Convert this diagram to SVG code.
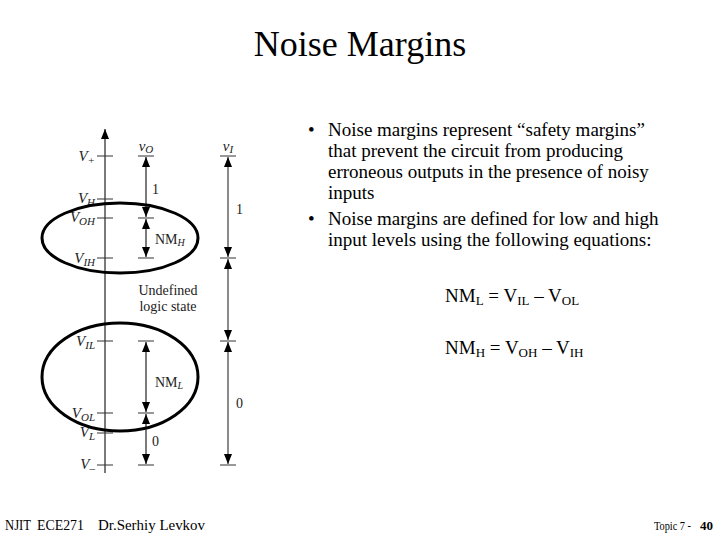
<svg xmlns="http://www.w3.org/2000/svg" width="720" height="540" viewBox="0 0 720 540">
<defs>
<marker id="ah" viewBox="0 0 10 8" refX="10" refY="4" markerWidth="10" markerHeight="8" markerUnits="userSpaceOnUse" orient="auto-start-reverse">
<path d="M0,0 L10,4 L0,8 Z" fill="#000"/>
</marker>
</defs>
<style>
.t{font-family:"Liberation Serif","Times New Roman",serif;fill:#000}
.lab{font-family:"Liberation Serif","Times New Roman",serif;font-style:italic;font-size:15px;fill:#222}
.sm{font-family:"Liberation Serif","Times New Roman",serif;font-size:14px;fill:#222}
.tick{stroke:#333;stroke-width:1}
.ax{stroke:#222;stroke-width:1.2}
.mid{stroke:#222;stroke-width:1.2;fill:none}
.gry{stroke:#8a8a8a;stroke-width:2;fill:none}
.ell{fill:none;stroke:#000;stroke-width:3}
</style>
<rect width="720" height="540" fill="#fff"/>
<text class="t" x="360" y="56" font-size="36" text-anchor="middle">Noise Margins</text>

<g id="diagram">
<g id="connectors">
<line class="ax" x1="105" y1="473" x2="105" y2="129" marker-end="url(#ah)"/>
<line class="mid" x1="146" y1="157" x2="146" y2="217" marker-start="url(#ah)" marker-end="url(#ah)"/>
<line class="mid" x1="146" y1="219" x2="146" y2="257" marker-start="url(#ah)" marker-end="url(#ah)"/>
<line class="mid" x1="146" y1="342" x2="146" y2="412" marker-start="url(#ah)" marker-end="url(#ah)"/>
<line class="mid" x1="146" y1="414" x2="146" y2="464" marker-start="url(#ah)" marker-end="url(#ah)"/>
<line class="gry" x1="228" y1="157" x2="228" y2="257" marker-start="url(#ah)" marker-end="url(#ah)"/>
<line class="gry" x1="228" y1="259" x2="228" y2="340" marker-start="url(#ah)" marker-end="url(#ah)"/>
<line class="gry" x1="228" y1="342" x2="228" y2="464" marker-start="url(#ah)" marker-end="url(#ah)"/>
</g>
<g id="ticks">
<line class="tick" x1="97" y1="156" x2="113" y2="156"/>
<line class="tick" x1="97" y1="199" x2="113" y2="199"/>
<line class="tick" x1="97" y1="218" x2="113" y2="218"/>
<line class="tick" x1="97" y1="258" x2="113" y2="258"/>
<line class="tick" x1="97" y1="341" x2="113" y2="341"/>
<line class="tick" x1="97" y1="413" x2="113" y2="413"/>
<line class="tick" x1="97" y1="433" x2="113" y2="433"/>
<line class="tick" x1="97" y1="465" x2="113" y2="465"/>
<line class="tick" x1="138" y1="156" x2="154" y2="156"/>
<line class="tick" x1="138" y1="218" x2="154" y2="218"/>
<line class="tick" x1="138" y1="258" x2="154" y2="258"/>
<line class="tick" x1="138" y1="341" x2="154" y2="341"/>
<line class="tick" x1="138" y1="413" x2="154" y2="413"/>
<line class="tick" x1="138" y1="465" x2="154" y2="465"/>
<line class="tick" x1="220" y1="156" x2="236" y2="156"/>
<line class="tick" x1="220" y1="258" x2="236" y2="258"/>
<line class="tick" x1="220" y1="341" x2="236" y2="341"/>
<line class="tick" x1="220" y1="465" x2="236" y2="465"/>
</g>
<g id="levels">
<text class="lab" x="95" y="161" text-anchor="end">V<tspan font-size="11" dy="3">+</tspan></text>
<text class="lab" x="95" y="203" text-anchor="end">V<tspan font-size="11" dy="3">H</tspan></text>
<text class="lab" x="95" y="222" text-anchor="end">V<tspan font-size="11" dy="3">OH</tspan></text>
<text class="lab" x="95" y="263" text-anchor="end">V<tspan font-size="11" dy="3">IH</tspan></text>
<text class="lab" x="95" y="346" text-anchor="end">V<tspan font-size="11" dy="3">IL</tspan></text>
<text class="lab" x="95" y="418" text-anchor="end">V<tspan font-size="11" dy="3">OL</tspan></text>
<text class="lab" x="95" y="437" text-anchor="end">V<tspan font-size="11" dy="3">L</tspan></text>
<text class="lab" x="95" y="469" text-anchor="end">V<tspan font-size="11" dy="3">–</tspan></text>
<text class="lab" x="146" y="151" text-anchor="middle">v<tspan font-size="11" dy="2">O</tspan></text>
<text class="lab" x="228" y="151" text-anchor="middle">v<tspan font-size="11" dy="2">I</tspan></text>
<text class="sm" x="152" y="194">1</text>
<text class="sm" x="155" y="244">NM<tspan font-size="10" dy="2" font-style="italic">H</tspan></text>
<text class="sm" x="168" y="295" text-anchor="middle" fill="#444">Undefined</text>
<text class="sm" x="168" y="311" text-anchor="middle" fill="#444">logic state</text>
<text class="sm" x="155" y="387">NM<tspan font-size="10" dy="2" font-style="italic">L</tspan></text>
<text class="sm" x="152" y="446">0</text>
<text class="sm" x="236" y="214">1</text>
<text class="sm" x="236" y="408">0</text>
</g>
<g id="ellipses">
<ellipse class="ell" cx="120" cy="238" rx="78" ry="35"/>
<ellipse class="ell" cx="120" cy="377" rx="78" ry="54"/>
</g>
</g>

<g id="bullets" class="t" font-size="19">
<text x="308" y="136">•</text>
<text x="328" y="136">Noise margins represent “safety margins”</text>
<text x="328" y="157">that prevent the circuit from producing</text>
<text x="328" y="178">erroneous outputs in the presence of noisy</text>
<text x="328" y="199">inputs</text>
<text x="308" y="225">•</text>
<text x="328" y="225">Noise margins are defined for low and high</text>
<text x="328" y="246">input levels using the following equations:</text>
</g>
<g id="equations" class="t" font-size="19">
<text x="445" y="302">NM<tspan font-size="13" dy="3">L</tspan><tspan dy="-3"> = V</tspan><tspan font-size="13" dy="3">IL</tspan><tspan dy="-3"> – V</tspan><tspan font-size="13" dy="3">OL</tspan></text>
<text x="445" y="354">NM<tspan font-size="13" dy="3">H</tspan><tspan dy="-3"> = V</tspan><tspan font-size="13" dy="3">OH</tspan><tspan dy="-3"> – V</tspan><tspan font-size="13" dy="3">IH</tspan></text>
</g>
<g id="footer" class="t" font-size="14">
<text x="5" y="530" textLength="26" lengthAdjust="spacingAndGlyphs">NJIT</text>
<text x="37" y="530" textLength="47" lengthAdjust="spacingAndGlyphs">ECE271</text>
<text x="98" y="530" textLength="107" lengthAdjust="spacingAndGlyphs">Dr.Serhiy Levkov</text>
<text x="654" y="530" font-size="13" textLength="37" lengthAdjust="spacingAndGlyphs">Topic 7 -</text>
<text x="713" y="530" text-anchor="end" font-size="13" font-weight="bold">40</text>
</g>
</svg>
